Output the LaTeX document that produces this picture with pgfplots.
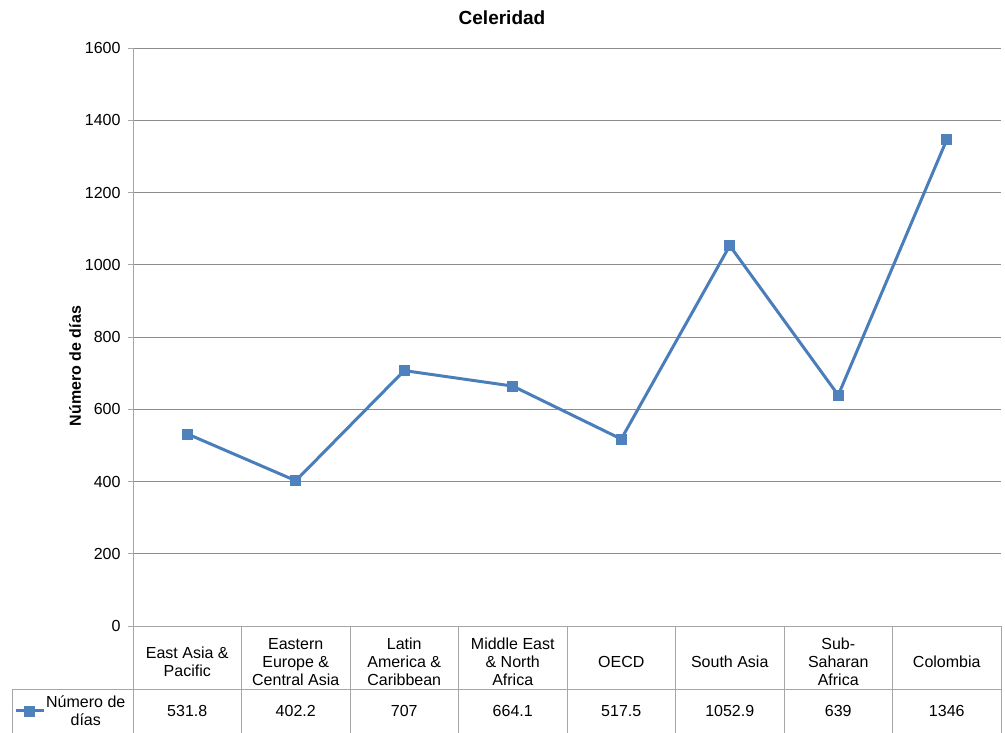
\documentclass[border=0pt]{standalone}
\usepackage{fontspec}
\setmainfont{Liberation Sans}
\usepackage{pgfplots}
\pgfplotsset{compat=1.18}
\definecolor{serie}{HTML}{4A7EBB}
\definecolor{mfill}{HTML}{4F81BD}
\definecolor{gridc}{HTML}{8C8C8C}
\definecolor{axc}{HTML}{A6A6A6}
\begin{document}
\begin{tikzpicture}[x=1pt,y=1pt,font=\fontsize{16}{18}\selectfont]
\useasboundingbox (0,0) rectangle (1005,733);
\begin{axis}[
  at={(133pt,107pt)}, anchor=south west,
  scale only axis, width=868pt, height=578pt,
  xmin=0.5, xmax=8.5, ymin=0, ymax=1600,
  ytick={0,200,...,1600},
  xtick={1,...,8},
  xticklabels={East Asia \&\\Pacific, Eastern\\Europe \&\\Central Asia, Latin\\America \&\\Caribbean, Middle East\\\& North\\Africa, OECD, South Asia, Sub-\\Saharan\\Africa, Colombia},
  xticklabel style={align=center, anchor=center, yshift=-31pt, font=\fontsize{16}{18}\selectfont},
  x tick style={draw=none},
  axis lines=left,
  axis line style={draw=axc, line width=0.9pt, -},
  tick align=outside, major tick length=5pt,
  ytick style={draw=axc, line width=0.9pt},
  ymajorgrids, major grid style={draw=gridc, line width=0.9pt},
  yticklabel style={font=\fontsize{16}{18}\selectfont, xshift=-4pt},
  /pgf/number format/assume math mode=true,
  /pgf/number format/1000 sep={},
  ylabel={\bfseries Número de días},
  ylabel style={at={(axis description cs:-0.0668,0.4498)}, anchor=center, font=\fontsize{16}{18}\selectfont},
  clip=false,
  legend style={at={(axis description cs:-0.1371,-0.147)}, anchor=west, draw=none, fill=none, inner sep=0pt,
    cells={align=center}, nodes={inner sep=1pt}, font=\fontsize{16}{18}\selectfont},
  legend image code/.code={\draw[mark repeat=2,mark phase=2,#1] plot coordinates {(0pt,0pt)(14pt,0pt)(28pt,0pt)};},
]
\addplot[serie, line width=3pt, mark=square*, mark size=5pt,
  mark options={fill=mfill, draw=mfill, line width=0.5pt}]
  coordinates {(1,531.8)(2,402.2)(3,707)(4,664.1)(5,517.5)(6,1052.9)(7,639)(8,1346)};
\addlegendentry{Número de\\días}
\end{axis}
\foreach \k in {0,...,8} {
  \draw[axc, line width=0.9pt] ({133+108.5*\k},107) -- ({133+108.5*\k},0);
}
\draw[axc, line width=0.9pt] (12,44) -- (1001,44);
\draw[axc, line width=0.9pt] (12,44) -- (12,0);
\foreach \v [count=\i] in {531.8,402.2,707,664.1,517.5,1052.9,639,1346} {
  \node at ({133+108.5*(\i-0.5)},22) {\v};
}
\node[font=\fontsize{19}{22}\selectfont\bfseries] at (502,715) {Celeridad};
\end{tikzpicture}
\end{document}
